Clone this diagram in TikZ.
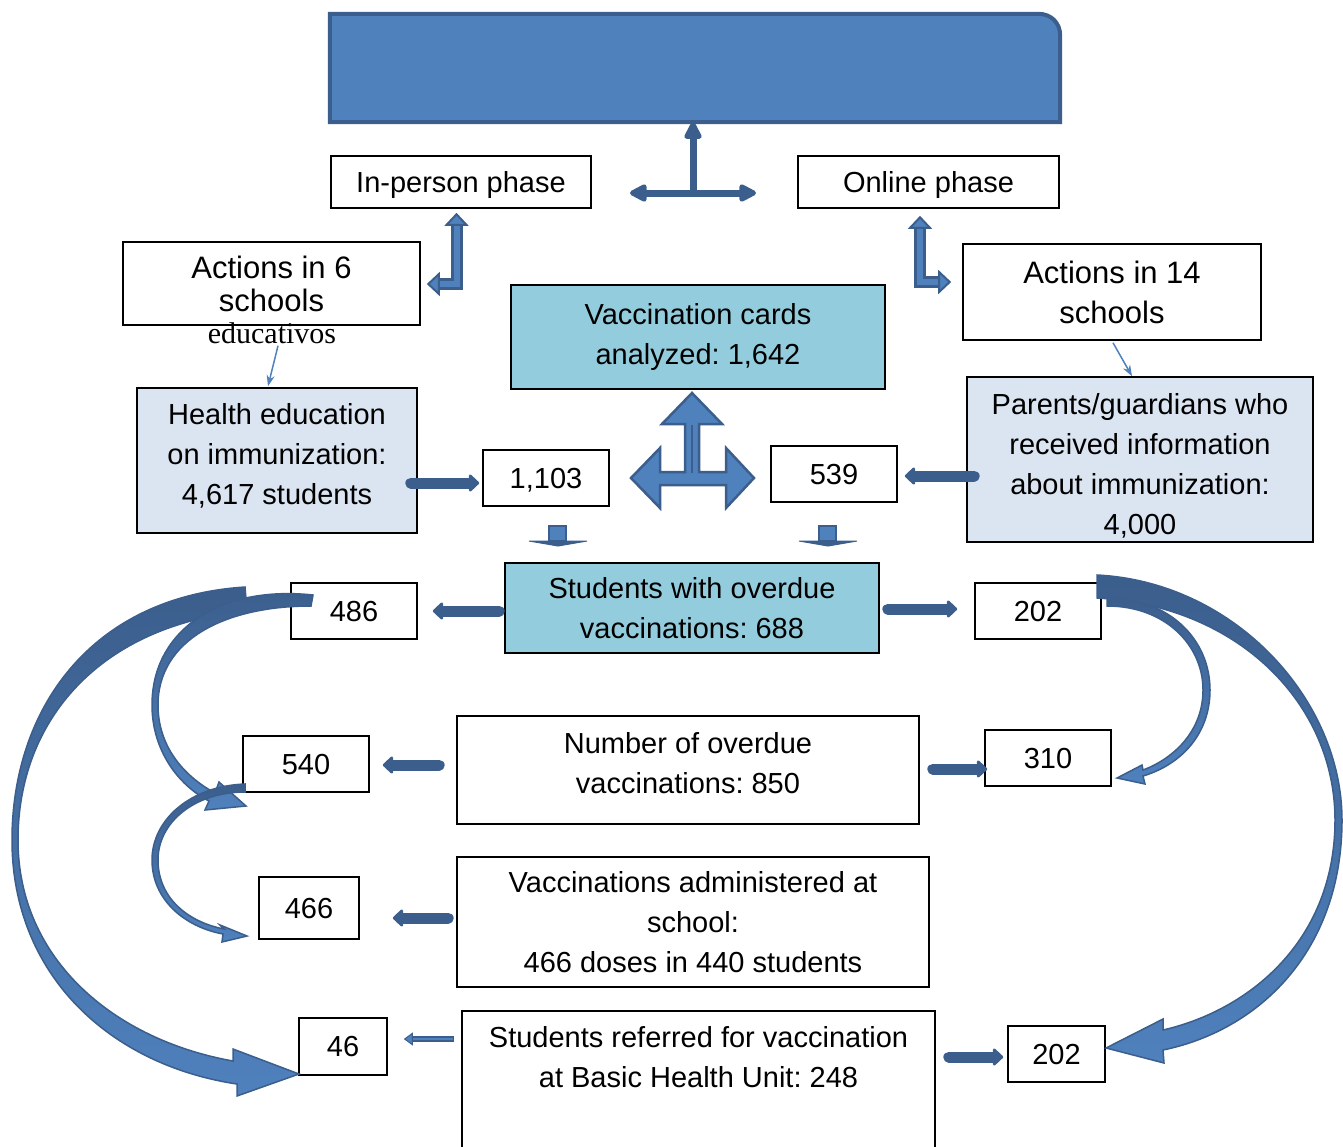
\documentclass[tikz,border=0pt]{standalone}
\usepackage{fontspec}
\setmainfont{Liberation Sans}
\newfontfamily\edufont{Liberation Serif}
\usetikzlibrary{arrows.meta}
\definecolor{dkblue}{RGB}{59,94,140}
\definecolor{midblue}{RGB}{79,129,189}
\definecolor{cyanbox}{RGB}{147,205,221}
\definecolor{palebox}{RGB}{219,229,241}
\frenchspacing
\begin{document}
\begin{tikzpicture}[x=1pt,y=-1pt,
  box/.style={draw=black, line width=1.6pt, fill=white, inner sep=0pt, align=center, font=\fontsize{29}{40}\selectfont},
  oneline/.style={text depth=0pt},
  txt/.style={inner sep=0pt, align=center, font=\fontsize{29}{40}\selectfont},
  fat/.style={draw=dkblue, line width=11pt, line cap=round, -{Triangle[length=11pt,width=20pt,round]}},
  tee/.style={draw=dkblue, line width=7pt},
  Lout/.style={draw=dkblue, line width=12pt, {Triangle[fill=midblue,line width=2pt,length=13pt,width=24pt]}-{Triangle[fill=midblue,line width=2pt,length=13pt,width=24pt]}},
  Lin/.style={draw=midblue, line width=6pt, shorten <=13pt, shorten >=13pt},
  thinarr/.style={draw=midblue, line width=1.5pt, -{Stealth[length=11pt,width=8pt]}},
  blockarc/.style={draw=dkblue, line width=1.5pt, top color=dkblue, bottom color=midblue}
]
\useasboundingbox (0,0) rectangle (1343,1146);

% banner
\node[minimum width=730, minimum height=108, inner sep=0pt] (banner) at (695,68) {};
\path[fill=midblue, draw=dkblue, line width=4pt]
  (banner.south west) -- (banner.north west) -- ([xshift=-22pt]banner.north east)
  .. controls ([xshift=-9pt]banner.north east) and ([yshift=-9pt]banner.north east) ..
  ([yshift=-22pt]banner.north east) -- (banner.south east) -- cycle;

% boxes
\node[box, oneline, minimum width=260, minimum height=52] (inperson) at (461,182) {In-person phase};
\node[box, oneline, minimum width=261, minimum height=52] (online) at (928.5,182) {Online phase};
\node[box, minimum width=297, minimum height=83, font=\fontsize{31}{33}\selectfont] (act6) at (271.5,283.5) {Actions in 6\\schools};
\node[inner sep=0pt, font=\edufont\fontsize{30}{32}\selectfont] (edu) at (272,333) {educativos};
\node[box, minimum width=298, minimum height=96, font=\fontsize{31}{40}\selectfont] (act14) at (1112,292) {Actions in 14\\schools};
\node[box, fill=cyanbox, minimum width=374, minimum height=104] (cards) at (698,337) {Vaccination cards\\analyzed: 1,642};
\node[box, fill=palebox, minimum width=280, minimum height=145] (health) at (277,460.5) {};
\node[txt] (healthtext) at (277,456) {Health education\\on immunization:\\4,617 students};
\node[box, oneline, minimum width=126, minimum height=56] (n1103) at (546,478) {1,103};
\node[box, oneline, minimum width=126, minimum height=56] (n539) at (834,474) {539};
\node[box, fill=palebox, minimum width=346, minimum height=165] (parents) at (1140,459.5) {};
\node[txt] (parentstext) at (1140,465.5) {Parents/guardians who\\received information\\about immunization:\\4,000};
\node[box, fill=cyanbox, minimum width=374, minimum height=90] (overdue) at (692,608) {Students with overdue\\vaccinations: 688};
\node[box, oneline, minimum width=126, minimum height=56] (n486) at (354,611) {486};
\node[box, oneline, minimum width=126, minimum height=56] (n202a) at (1038,611) {202};
\node[box, oneline, minimum width=126, minimum height=56] (n540) at (306,764) {540};
\node[box, minimum width=462, minimum height=108] (number) at (688,770) {};
\node[txt] (numbertext) at (688,763) {Number of overdue\\vaccinations: 850};
\node[box, oneline, minimum width=126, minimum height=56] (n310) at (1048,758) {310};
\node[box, oneline, minimum width=100, minimum height=62] (n466) at (309,908) {466};
\node[box, minimum width=472, minimum height=130] (admin) at (693,922) {Vaccinations administered at\\school:\\466 doses in 440 students};
\node[box, oneline, minimum width=88, minimum height=57] (n46) at (343,1046.5) {46};
\node[box, minimum width=473, minimum height=170, anchor=north] (refer) at (698.5,1010) {};
\node[txt] (refertext) at (698.5,1057) {Students referred for vaccination\\at Basic Health Unit: 248};
\node[box, oneline, minimum width=97, minimum height=56] (n202b) at (1056.5,1054) {202};

% top T arrow
\coordinate (tc) at (693,193);
\coordinate (tl) at (630,193);
\coordinate (tr) at (756,193);
\draw[tee, {Triangle[length=20pt,width=19pt,round]}-{Triangle[length=20pt,width=19pt,round]}] (tl) -- (tr);
\draw[tee, -{Triangle[length=20pt,width=19pt,round]}] (tc) -- (tc |- banner.south);

% L arrows
\draw[Lout] ([xshift=-4.5pt,yshift=-4pt]inperson.south) |- ([xshift=6pt,yshift=-0.5pt]act6.east);
\draw[Lin] ([xshift=-4.5pt,yshift=-4pt]inperson.south) |- ([xshift=6pt,yshift=-0.5pt]act6.east);
\draw[Lout] ([xshift=-8.5pt,yshift=-7pt]online.south) |- ([xshift=-11pt,yshift=10pt]act14.west);
\draw[Lin] ([xshift=-8.5pt,yshift=-7pt]online.south) |- ([xshift=-11pt,yshift=10pt]act14.west);

% thin arrows
\draw[thinarr] ([xshift=6pt,yshift=-2pt]edu.south) -- ([xshift=-9pt,yshift=1pt]health.north);
\draw[thinarr] ([xshift=1pt,yshift=-2pt]act14.south) -- ([xshift=-8pt]parents.north);

% fat arrows
\draw[fat] ([xshift=-7pt,yshift=-22.5pt]health.east) -- ([xshift=-3pt,yshift=-5pt]n1103.west);
\draw[fat] ([xshift=8pt,yshift=-16.5pt]parents.west) -- ([xshift=7pt,yshift=-2pt]n539.east);
\draw[fat] ([xshift=-5pt,yshift=-3pt]overdue.west) -- ([xshift=15pt]n486.east);
\draw[fat] ([xshift=8pt,yshift=-1pt]overdue.east) -- ([xshift=-17pt,yshift=2pt]n202a.west);
\draw[fat] ([xshift=-17pt,yshift=5pt]number.west) -- ([xshift=13pt,yshift=-1pt]n540.east);
\draw[fat] ([xshift=13pt,yshift=1pt]number.east) -- ([xshift=3pt,yshift=-11pt]n310.west);
\draw[fat] ([xshift=-8pt,yshift=4pt]admin.west) -- ([xshift=33pt,yshift=-10pt]n466.east);
\draw[fat] ([xshift=13pt,yshift=-47pt]refer.north east) -- ([xshift=-4pt,yshift=-3pt]n202b.west);

% thin double arrow to 46
\draw[draw=dkblue, line width=6pt, -{Triangle[fill=midblue,line width=1pt,length=9pt,width=13pt]}] ([xshift=-7pt,yshift=-29pt]refer.north west) -- ([xshift=16pt,yshift=7.5pt]n46.east);
\draw[draw=midblue, line width=2.5pt, shorten <=1pt, shorten >=9pt] ([xshift=-7pt,yshift=-29pt]refer.north west) -- ([xshift=16pt,yshift=7.5pt]n46.east);

% cross arrow
\filldraw[fill=midblue, draw=dkblue, line width=2.5pt, line join=miter]
  (692,393) -- (722,424) -- (699,424) -- (699,472) -- (726,472) -- (726,448) -- (754,478)
  -- (726,508) -- (726,485) -- (660,485) -- (660,508) -- (631,478) -- (660,448) -- (660,472)
  -- (685,472) -- (685,424) -- (662,424) -- cycle;
\draw[dkblue, line width=1.5pt] (692,425) -- (692,473);

% small down arrows
\filldraw[fill=midblue, draw=dkblue, line width=1.5pt] (549,526) rectangle (566,541);
\filldraw[draw=dkblue, fill=dkblue, line width=1pt] (529,541) -- (587,541) -- (558,546) -- cycle;
\filldraw[fill=midblue, draw=dkblue, line width=1.5pt] (819,526) rectangle (836,541);
\filldraw[draw=dkblue, fill=dkblue, line width=1pt] (799,541) -- (857,541) -- (828,546) -- cycle;

% left big arc
\path[blockarc]
  (245,587) .. controls (90,597) and (12,710) .. (12,840)
  .. controls (12,975) and (110,1065) .. (237,1084)
  -- (237,1096) -- (299,1074) -- (233,1049) -- (233,1061)
  .. controls (115,1040) and (18,960) .. (18,840)
  .. controls (18,720) and (100,625) .. (247,611) -- cycle;
% left medium arc
\path[blockarc]
  (313,595) .. controls (220,585) and (152,630) .. (152,705)
  .. controls (152,750) and (178,785) .. (209,801)
  -- (205,810) -- (246,806) -- (219,782) -- (215,793)
  .. controls (182,775) and (158,745) .. (158,705)
  .. controls (158,640) and (225,606) .. (311,606) -- cycle;
% left small arc
\path[blockarc]
  (245,784) .. controls (190,786) and (152,820) .. (152,860)
  .. controls (152,900) and (185,927) .. (223,934)
  -- (222,942) -- (247,936) -- (220,925) -- (224,929)
  .. controls (188,922) and (158,898) .. (158,860)
  .. controls (158,822) and (195,792) .. (245,792) -- cycle;
% right big arc
\path[blockarc]
  (1097,575) .. controls (1235,582) and (1342,700) .. (1342,820)
  .. controls (1342,950) and (1260,1030) .. (1163,1050)
  -- (1164,1063) -- (1106,1048) -- (1163,1019) -- (1163,1030)
  .. controls (1250,1010) and (1335,940) .. (1335,820)
  .. controls (1335,705) and (1240,606) .. (1097,598) -- cycle;
% right medium arc
\path[blockarc]
  (1107,598) .. controls (1170,598) and (1210,640) .. (1210,690)
  .. controls (1210,735) and (1180,765) .. (1143,776)
  -- (1145,784) -- (1117,778) -- (1142,765) -- (1143,770)
  .. controls (1175,758) and (1203,730) .. (1203,690)
  .. controls (1203,645) and (1165,606) .. (1107,606) -- cycle;
\end{tikzpicture}
\end{document}
